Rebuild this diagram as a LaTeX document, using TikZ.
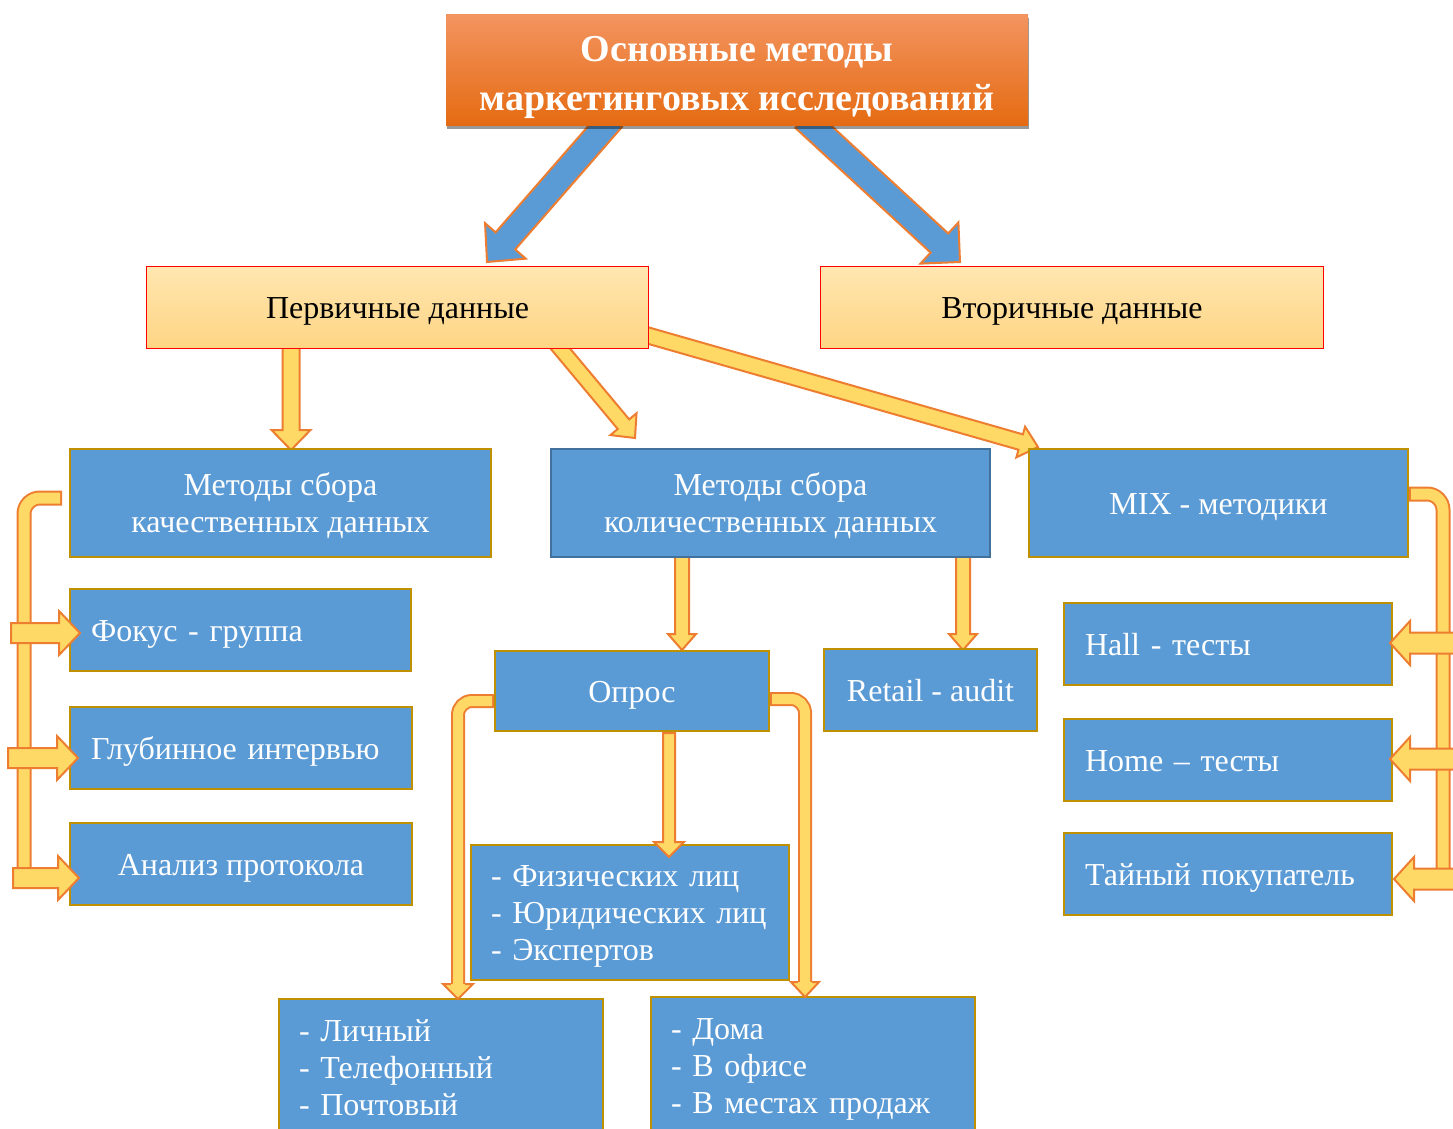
\documentclass[tikz,border=0pt]{standalone}
\usepackage{fontspec}
\setmainfont{Liberation Serif}
\usetikzlibrary{calc,shadows}
\pgfdeclarelayer{bg}
\pgfsetlayers{bg,main}
\definecolor{bblue}{HTML}{5B9BD5}
\definecolor{bgold}{HTML}{BF9000}
\definecolor{bdark}{HTML}{41719C}
\definecolor{ayel}{HTML}{FFD966}
\definecolor{aorg}{HTML}{ED7D31}
\definecolor{pkTop}{HTML}{FFE6B0}
\definecolor{pkBot}{HTML}{FED584}
\definecolor{tTop}{HTML}{F39460}
\definecolor{tMid}{HTML}{F17A24}
\definecolor{tBot}{HTML}{E56B12}
\newcommand\fsz{\fontsize{32}{37}\selectfont}
\newcommand\ts{\rule[-8pt]{0pt}{38pt}}
\newcommand\fst{\rule{0pt}{30pt}}
\newcommand\lst{\rule[-8pt]{0pt}{8pt}}
\newcommand\tfst{\rule{0pt}{44pt}}
\newcommand\tlst{\rule[-12pt]{0pt}{12pt}}
\newcommand\blockarrow[6][]{%
  \coordinate (ba) at (#2);
  \coordinate (bb) at (#3);
  \coordinate (bh) at ($(bb)!#6!(ba)$);
  \draw[#1] ($(ba)!#4!-90:(bb)$) -- ($(bh)!#4!-90:(bb)$) -- ($(bh)!#5!-90:(bb)$) -- (bb)
    -- ($(bh)!#5!90:(bb)$) -- ($(bh)!#4!90:(bb)$) -- ($(ba)!#4!90:(bb)$) -- cycle;}
\newcommand\arrowhead[5][]{%
  \draw[#1] ($(#2)!#4!-90:(#3)$) -- ($(#2)!#5!-90:(#3)$) -- (#3) -- ($(#2)!#5!90:(#3)$) -- ($(#2)!#4!90:(#3)$);}
\tikzset{
  bluebox/.style={draw=bgold, line width=2pt, fill=bblue, text=white, font=\fsz, inner sep=0pt, anchor=north west, align=center},
  leftbox/.style={bluebox, align=left, inner xsep=21pt},
  databox/.style={draw=red, line width=1pt, top color=pkTop, bottom color=pkBot, text=black, font=\fsz, inner sep=0pt, anchor=north west},
  titlebox/.style={top color=tTop, middle color=tMid, bottom color=tBot, text=white, font=\bfseries\fontsize{38}{49}\selectfont, inner sep=0pt, anchor=north west, align=center, drop shadow={shadow xshift=1pt, shadow yshift=-4pt, opacity=0.4, fill=black}},
  yarrow/.style={draw=aorg, fill=ayel, line width=2pt, line join=miter},
  bluearr/.style={draw=aorg, fill=bblue, line width=2pt, line join=miter},
  shaftout/.style={draw=aorg, line width=14pt, rounded corners=14pt},
  shaftin/.style={draw=ayel, line width=10pt, rounded corners=14pt, shorten <=2pt},
  brout/.style={draw=aorg, line width=15pt, rounded corners=16pt},
  brin/.style={draw=ayel, line width=11pt, rounded corners=16pt, shorten <=2pt, shorten >=2pt},
}
\begin{document}
\begin{tikzpicture}[x=1pt,y=-1pt]
\useasboundingbox (0,0) rectangle (1453,1129);
\clip (0,0) rectangle (1453,1129);
% boxes
\node[titlebox, minimum width=582pt, minimum height=111pt] (title) at (446,14) {\tfst Основные методы\\маркетинговых исследований\tlst};
\node[databox, minimum width=502pt, minimum height=82pt] (prim) at (146,266) {\ts Первичные данные};
\node[databox, minimum width=503pt, minimum height=82pt] (sec) at (820,266) {\ts Вторичные данные};
\node[bluebox, minimum width=421pt, minimum height=108pt] (qual) at (69,448) {\fst Методы сбора\\качественных данных\lst};
\node[bluebox, draw=bdark, minimum width=439pt, minimum height=108pt] (qnt) at (550,448) {\fst Методы сбора\\количественных данных\lst};
\node[bluebox, minimum width=379pt, minimum height=108pt] (mix) at (1028,448) {\ts MIX - методики};
\node[leftbox, text width=299pt, minimum height=82pt] (focus) at (69,588) {\ts Фокус - группа};
\node[leftbox, text width=300pt, minimum height=82pt] (deep) at (69,706) {\ts Глубинное интервью};
\node[bluebox, minimum width=342pt, minimum height=82pt] (anal) at (69,822) {\ts Анализ протокола};
\node[bluebox, minimum width=274pt, minimum height=80pt] (opros) at (494,650) {\ts Опрос};
\node[bluebox, minimum width=213pt, minimum height=82pt] (retail) at (823,648) {\ts Retail - audit};
\node[leftbox, inner xsep=20pt, text width=278pt, minimum height=135pt] (resp) at (470,844) {\fst - Физических лиц\\- Юридических лиц\\- Экспертов\lst};
\node[leftbox, text width=286pt, minimum height=82pt] (hall) at (1063,602) {\ts Hall - тесты};
\node[leftbox, text width=286pt, minimum height=82pt] (home) at (1063,718) {\ts Home – тесты};
\node[leftbox, text width=286pt, minimum height=82pt] (secret) at (1063,832) {\ts Тайный покупатель};
\node[leftbox, inner xsep=20pt, text width=284pt, minimum height=136pt] (ways) at (278,998) {\fst - Личный\\- Телефонный\\- Почтовый\lst};
\node[leftbox, inner xsep=20pt, text width=284pt, minimum height=136pt] (places) at (650,996) {\fst - Дома\\- В офисе\\- В местах продаж\lst};
% connectors behind boxes
\begin{pgfonlayer}{bg}
\fill[white] (0,0) rectangle (1453,1129);
\blockarrow[bluearr]{$(title.south)+(-125,-7)$}{$(prim.north west)+(341,-4)$}{13pt}{27pt}{28pt}
\blockarrow[bluearr]{$(title.south)+(67,-7)$}{$(sec.north west)+(140,-4)$}{13pt}{28pt}{28pt}
\blockarrow[yarrow]{$(prim.south west)+(145,-8)$}{$(qual.north west)+(222,2)$}{8.5pt}{19.5pt}{20pt}
\blockarrow[yarrow]{$(prim.south west)+(408,-8)$}{$(qnt.north west)+(85,-10)$}{7.5pt}{17pt}{18pt}
\blockarrow[yarrow]{$(prim.east)+(-8,26)$}{$(mix.north west)+(10,-1)$}{8pt}{16pt}{18pt}
\blockarrow[yarrow]{$(qnt.south west)+(132,-6)$}{$(opros.north west)+(188,0)$}{7pt}{14pt}{16pt}
\blockarrow[yarrow]{$(qnt.south west)+(413,-6)$}{$(retail.north west)+(140,2)$}{7pt}{14pt}{16pt}
\end{pgfonlayer}
% connectors in front
\blockarrow[yarrow]{$(opros.south west)+(175,1)$}{$(resp.north west)+(199,13)$}{6pt}{15pt}{15pt}
\coordinate (lh) at ($(ways.north west)+(180,-14)$);
\coordinate (lt) at ($(ways.north west)+(180,1)$);
\draw[shaftout] ($(opros.west)+(0,10)$) -| (lh);
\draw[shaftin] ($(opros.west)+(0,10)$) -| (lh);
\arrowhead[yarrow]{lh}{lt}{7pt}{15pt}
\coordinate (rh) at ($(places.north west)+(155,-14)$);
\coordinate (rt) at ($(places.north west)+(155,1)$);
\draw[shaftout] ($(opros.east)+(0,8)$) -| (rh);
\draw[shaftin] ($(opros.east)+(0,8)$) -| (rh);
\arrowhead[yarrow]{rh}{rt}{7pt}{14pt}
% left bracket
\draw[brout] ($(qual.west)+(-7,-5)$) -| ($(anal.west)+(-45,6)$);
\draw[brin] ($(qual.west)+(-7,-5)$) -| ($(anal.west)+(-45,6)$);
\blockarrow[yarrow]{$(focus.west)+(-58,3)$}{$(focus.west)+(11,3)$}{10pt}{22pt}{21pt}
\blockarrow[yarrow]{$(deep.west)+(-61,10)$}{$(deep.west)+(9,10)$}{10pt}{22pt}{21pt}
\blockarrow[yarrow]{$(anal.west)+(-56,14)$}{$(anal.west)+(10,14)$}{10pt}{22pt}{21pt}
% right bracket
\draw[brout] ($(mix.east)+(0,-9)$) -| ($(secret.east)+(50,0)$);
\draw[brin] ($(mix.east)+(0,-9)$) -| ($(secret.east)+(50,0)$);
\blockarrow[yarrow]{$(hall.east)+(70,-1)$}{$(hall.east)+(-3,-1)$}{10.5pt}{22pt}{20pt}
\blockarrow[yarrow]{$(home.east)+(70,-1)$}{$(home.east)+(-3,-1)$}{10.5pt}{22pt}{20pt}
\blockarrow[yarrow]{$(secret.east)+(70,5)$}{$(secret.east)+(1,5)$}{10.5pt}{22pt}{20pt}
\end{tikzpicture}
\end{document}
